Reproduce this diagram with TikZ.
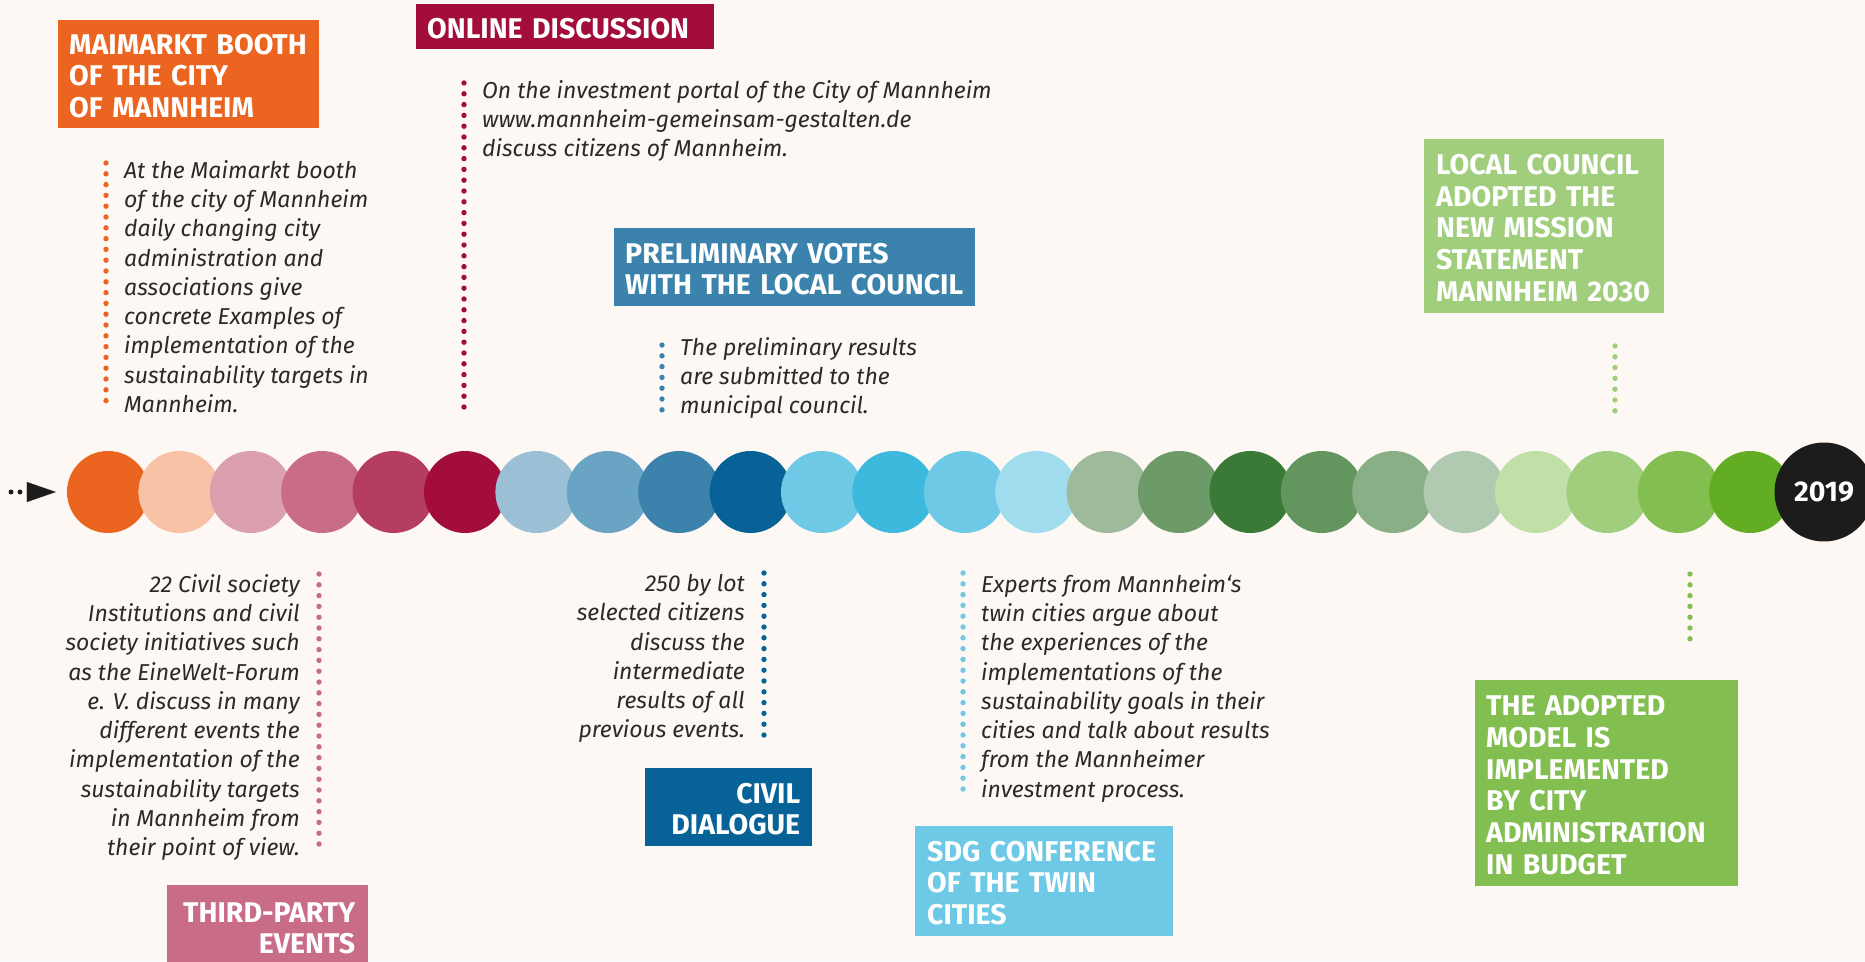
\documentclass[tikz,border=0pt]{standalone}
\usepackage{fontspec}
\setmainfont{Fira Sans}
\usepackage{xcolor}
\usetikzlibrary{
  positioning,
  arrows.meta
}

\definecolor{paper}{HTML}{FDF8F4}
\definecolor{ink}{HTML}{2A2A2A}
\definecolor{yearblack}{HTML}{1C1C1C}
\definecolor{c01}{HTML}{EB6420}
\definecolor{c02}{HTML}{F7C2A6}
\definecolor{c03}{HTML}{DC9FB0}
\definecolor{c04}{HTML}{C86C88}
\definecolor{c05}{HTML}{B43D61}
\definecolor{c06}{HTML}{A30D3B}
\definecolor{c07}{HTML}{9BC0D6}
\definecolor{c08}{HTML}{6AA4C4}
\definecolor{c09}{HTML}{3B83AD}
\definecolor{c10}{HTML}{076397}
\definecolor{c11}{HTML}{6DC9E5}
\definecolor{c12}{HTML}{3CB9DC}
\definecolor{c13}{HTML}{6DC9E5}
\definecolor{c14}{HTML}{9FDCEE}
\definecolor{c15}{HTML}{9DBB9A}
\definecolor{c16}{HTML}{6C9B69}
\definecolor{c17}{HTML}{3B7936}
\definecolor{c18}{HTML}{63965E}
\definecolor{c19}{HTML}{88AF86}
\definecolor{c20}{HTML}{AFCAB0}
\definecolor{c21}{HTML}{C0E0A8}
\definecolor{c22}{HTML}{A1CE7D}
\definecolor{c23}{HTML}{83BE51}
\definecolor{c24}{HTML}{62AD23}

\newcommand{\headfont}{\fontsize{28.5}{31.7}\selectfont\bfseries
  \hyphenpenalty=10000\exhyphenpenalty=10000}
\newcommand{\descfont}{\fontsize{23}{29.3}\selectfont\itshape}

\tikzset{
  bead/.style={circle, minimum size=82pt, inner sep=0pt},
  headbox/.style={fill=#1, text=white, font=\headfont, inner sep=0pt,
    execute at begin node={\rule{0pt}{24pt}}},
  desc/.style={text=ink, font=\descfont, inner sep=0pt},
  dotbar/.style={draw=#1, line width=5.4pt, line cap=round,
    dash pattern=on 0pt off 10.8pt},
  lead/.style={draw=yearblack, line width=5pt, line cap=round,
    dash pattern=on 0pt off 9pt,
    -{Triangle[length=29pt, width=20pt, line width=0.1pt]}}
}

\begin{document}
\begin{tikzpicture}[x=1pt, y=-1pt]
  % Paper and the size of the page.
  \fill[paper] (0,0) rectangle (1865,961);
  \useasboundingbox (0,0) rectangle (1865,961);

  % The row of coloured beads, one per step.
  \foreach \col [count=\i] in {c01,c02,c03,c04,c05,c06,c07,c08,c09,c10,c11,c12,
                               c13,c14,c15,c16,c17,c18,c19,c20,c21,c22,c23,c24}
    \node[bead, fill=\col] (c\i) at ({108+(\i-1)*71.4},492) {};

  % The end of the row: the year.
  \node[bead, minimum size=99pt, fill=yearblack, text=white, font=\headfont]
    (year) at (1824,492) {2019};

  % Where the timeline starts.
  \coordinate (start) at (11,492);
  \draw[lead, shorten >=11pt] (start) -- (c1.west);

  % Boxes above the row.
  \node[headbox=c01, minimum width=261pt, minimum height=108pt,
        text width=239pt, align=left, anchor=north west]
    (maibox) at (58,20) {MAIMARKT~BOOTH\\OF~THE~CITY\\OF~MANNHEIM};
  \node[headbox=c06, minimum width=298pt, minimum height=45pt,
        text width=276pt, align=left, anchor=north west]
    (onlinebox) at (416,4) {ONLINE~DISCUSSION};
  \node[headbox=c09, minimum width=361pt, minimum height=78pt,
        text width=339pt, align=left, anchor=north west]
    (prelbox) at (614,228) {PRELIMINARY~VOTES\\WITH~THE~LOCAL~COUNCIL};
  \node[headbox=c22, minimum width=240pt, minimum height=174pt,
        text width=216pt, align=left, anchor=north west]
    (localbox) at (1424,139)
    {LOCAL~COUNCIL\\ADOPTED~THE\\NEW~MISSION\\STATEMENT\\MANNHEIM~2030};

  % Boxes below the row.
  \node[headbox=c04, minimum width=201pt, minimum height=82pt,
        text width=175pt, align=right, anchor=north west]
    (thirdbox) at (167,885) {THIRD-PARTY\\EVENTS};
  \node[headbox=c10, minimum width=167pt, minimum height=78pt,
        text width=143pt, align=right, anchor=north west]
    (civilbox) at (645,768) {CIVIL\\DIALOGUE};
  \node[headbox=c11, minimum width=258pt, minimum height=110pt,
        text width=234pt, align=left, anchor=north west]
    (sdgbox) at (915,826) {SDG~CONFERENCE\\OF~THE~TWIN\\CITIES};
  \node[headbox=c23, minimum width=263pt, minimum height=206pt,
        text width=241pt, align=left, anchor=north west]
    (adoptbox) at (1475,680)
    {THE~ADOPTED\\MODEL~IS\\IMPLEMENTED\\BY~CITY\\ADMINISTRATION\\IN~BUDGET};

  % The texts that go with the boxes.
  \node[desc, align=left, anchor=north west] (maitext) at (124,160)
    {At the Maimarkt booth\\of the city of Mannheim\\daily changing city\\
     administration and\\associations give\\concrete Examples of\\
     implementation of the\\sustainability targets in\\Mannheim.};
  \node[desc, align=left, anchor=north west] (onlinetext) at (482,80)
    {On the investment portal of the City of Mannheim\\
     www.mannheim-gemeinsam-gestalten.de\\discuss citizens of Mannheim.};
  \node[desc, align=left, anchor=north west] (preltext) at (680,337)
    {The preliminary results\\are submitted to the\\municipal council.};
  \node[desc, align=right, anchor=north east] (thirdtext) at (300,574)
    {22 Civil society\\Institutions and civil\\society initiatives such\\
     as the EineWelt-Forum\\e. V. discuss in many\\different events the\\
     implementation of the\\sustainability targets\\in Mannheim from\\
     their point of view.};
  \node[desc, align=right, anchor=north east] (civiltext) at (745,574)
    {250 by lot\\selected citizens\\discuss the\\intermediate\\
     results of all\\previous events.};
  \node[desc, align=left, anchor=north west] (sdgtext) at (981,574)
    {Experts from Mannheim‘s\\twin cities argue about\\the experiences of the\\
     implementations of the\\sustainability goals in their\\
     cities and talk about results\\from the Mannheimer\\investment process.};

  % Dotted bars beside the texts.
  \foreach \nm/\x/\ya/\yb/\col in {mai/106/163/408/c01, online/464/83/412/c06,
      prel/662/345/411/c09, local/1615/346/411/c22, third/319/574/852/c04,
      civil/764/573/735/c10, sdg/963/573/795/c11, adopt/1690/574/647/c23} {
    \coordinate (\nm-a) at (\x,\ya);
    \coordinate (\nm-b) at (\x,\yb);
    \draw[dotbar=\col] (\nm-a) -- (\nm-b);
  }
\end{tikzpicture}
\end{document}
